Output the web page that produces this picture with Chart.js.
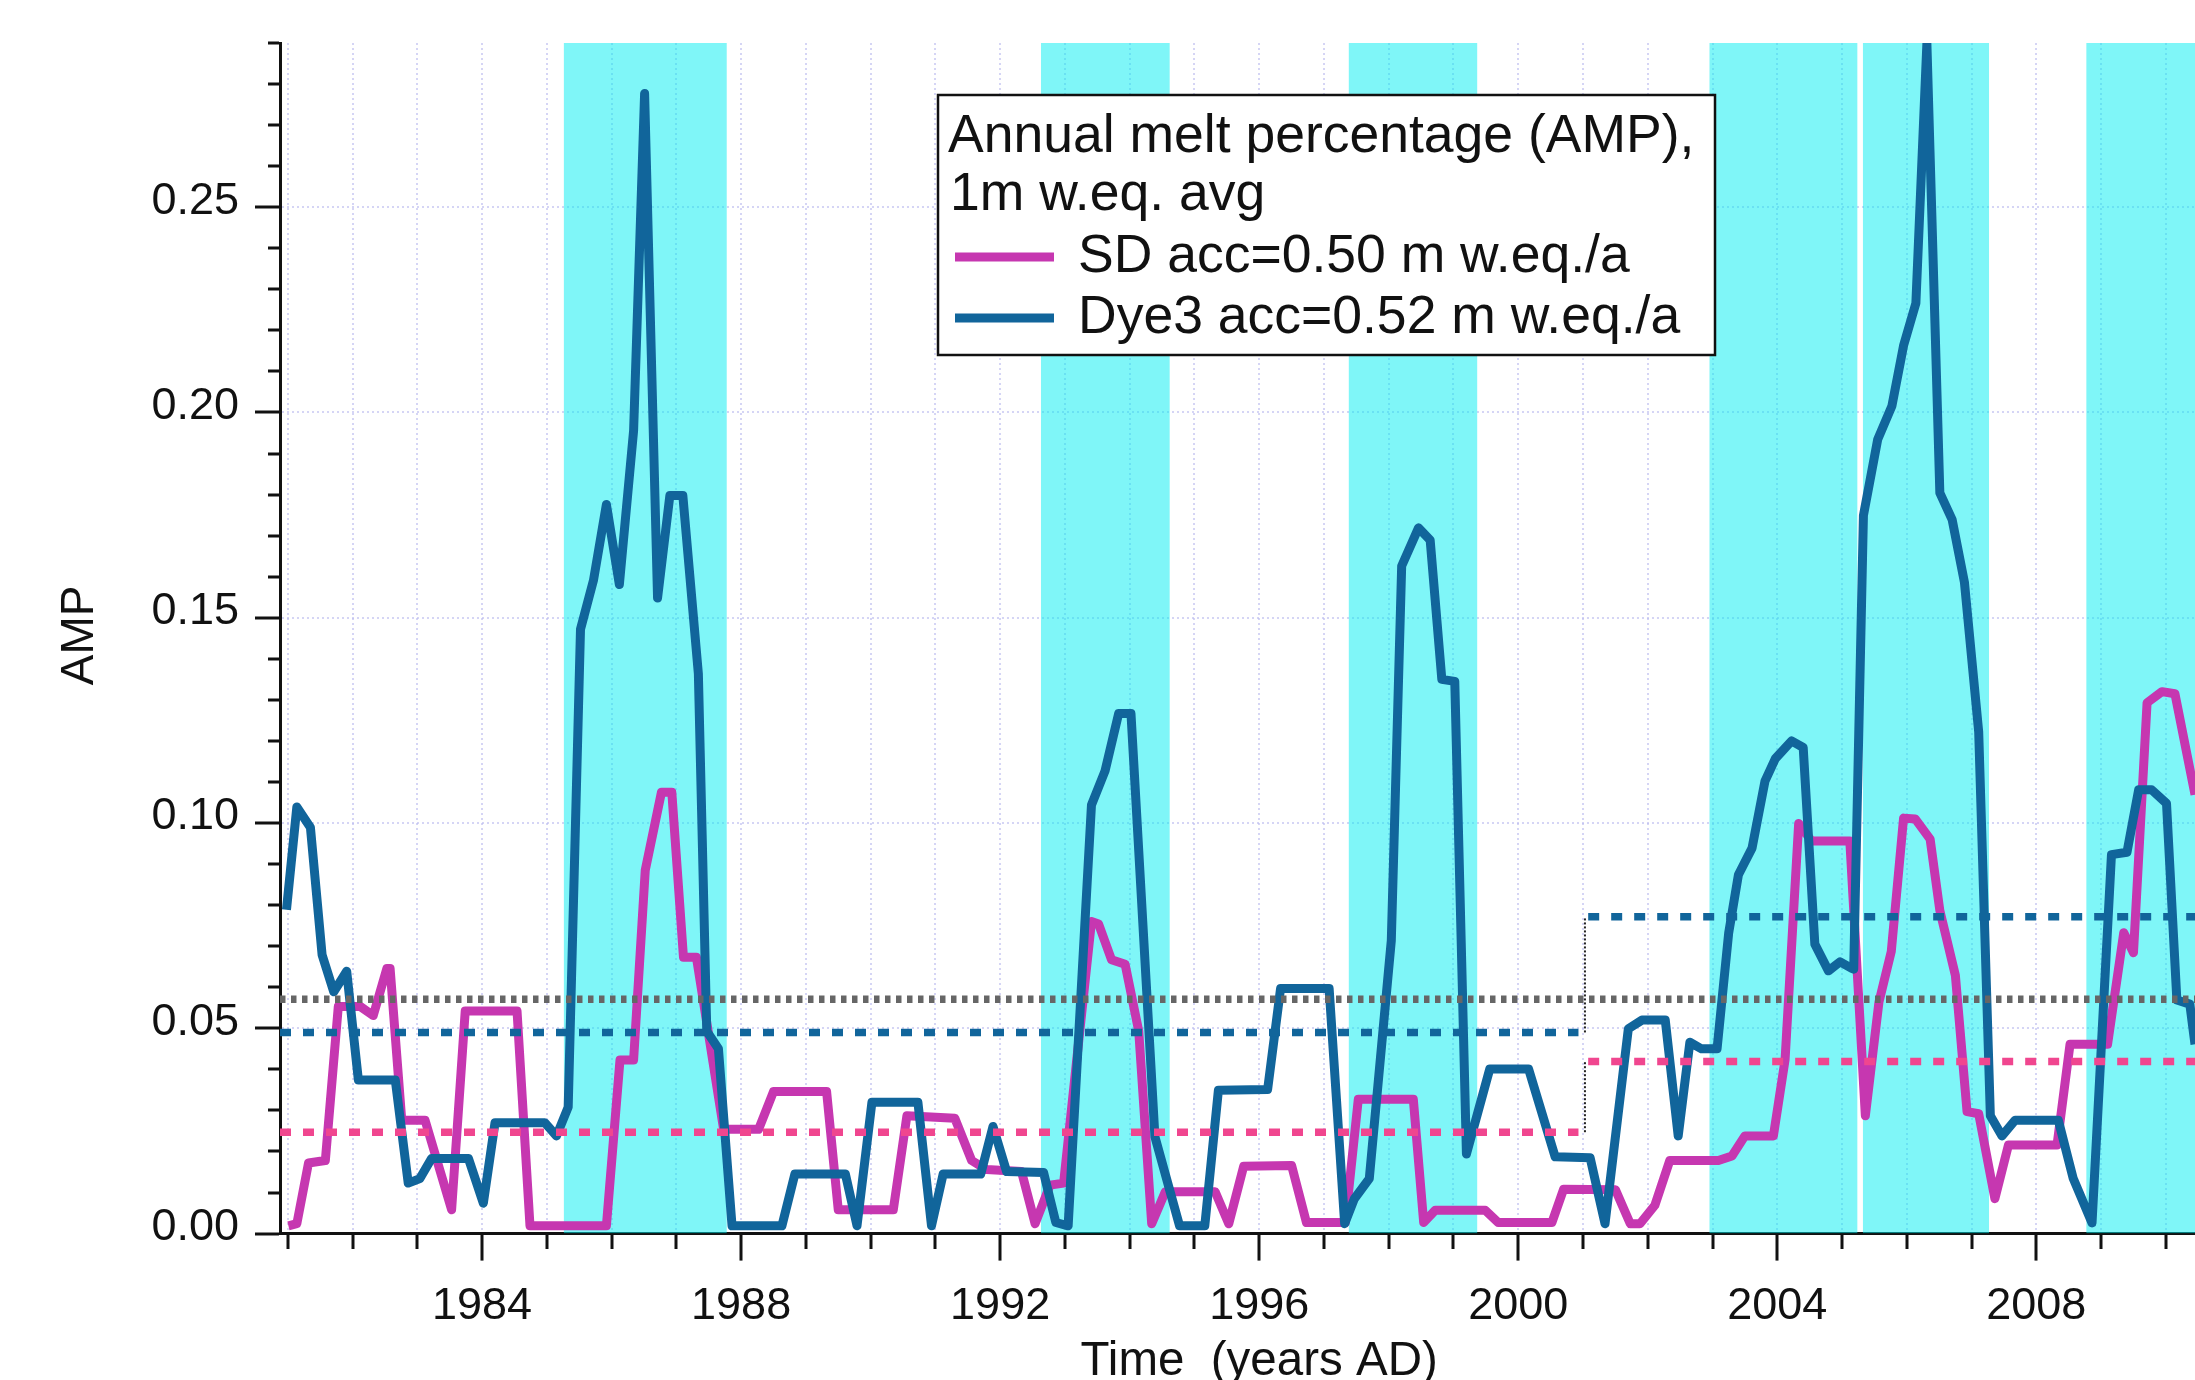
<!DOCTYPE html>
<html>
<head>
<meta charset="utf-8">
<script src="https://cdn.jsdelivr.net/npm/chart.js@4.4.1/dist/chart.umd.min.js"></script>
<style>
  html, body { margin: 0; padding: 0; background: #ffffff; overflow: hidden; }
  canvas { display: block; }
</style>
</head>
<body>
<canvas id="amp" width="2195" height="1380"></canvas>
<script>
// ---- Annual melt percentage, 1 m w.eq. running average ----
const dye3Years = [
  1980.98, 1981.14, 1981.35, 1981.53, 1981.71, 1981.91, 1982.09, 1982.66, 1982.86, 1983.04,
  1983.22, 1983.79, 1984.02, 1984.20, 1984.97, 1985.15, 1985.33, 1985.52, 1985.72, 1985.92,
  1986.12, 1986.34, 1986.51, 1986.71, 1986.90, 1987.10, 1987.34, 1987.47, 1987.65, 1987.86,
  1988.63, 1988.83, 1989.61, 1989.79, 1990.02, 1990.73, 1990.94, 1991.12, 1991.70, 1991.89,
  1992.10, 1992.67, 1992.86, 1993.05, 1993.41, 1993.62, 1993.83, 1994.02, 1994.39, 1994.77,
  1995.16, 1995.37, 1996.13, 1996.33, 1997.08, 1997.32, 1997.47, 1997.70, 1998.04, 1998.20,
  1998.46, 1998.64, 1998.82, 1999.02, 1999.20, 1999.56, 2000.16, 2000.57, 2001.11, 2001.34,
  2001.70, 2001.91, 2002.27, 2002.47, 2002.65, 2002.83, 2003.07, 2003.25, 2003.40, 2003.61,
  2003.81, 2003.97, 2004.22, 2004.40, 2004.58, 2004.79, 2004.97, 2005.15, 2005.18, 2005.33,
  2005.55, 2005.77, 2005.95, 2006.14, 2006.31, 2006.51, 2006.70, 2006.89, 2007.11, 2007.29,
  2007.47, 2007.67, 2008.34, 2008.57, 2008.86, 2009.16, 2009.40, 2009.58, 2009.78, 2010.01,
  2010.17, 2010.37, 2010.45
];
const dye3Amp = [
  0.0770, 0.1020, 0.0970, 0.0660, 0.0570, 0.0620, 0.0355, 0.0355, 0.0104, 0.0115,
  0.0164, 0.0164, 0.0055, 0.0251, 0.0251, 0.0219, 0.0289, 0.1453, 0.1572, 0.1757,
  0.1562, 0.1937, 0.2758, 0.1529, 0.1779, 0.1779, 0.1345, 0.0474, 0.0431, 0.0000,
  0.0000, 0.0126, 0.0126, 0.0000, 0.0301, 0.0301, 0.0000, 0.0126, 0.0126, 0.0242,
  0.0132, 0.0130, 0.0008, 0.0000, 0.1025, 0.1108, 0.1248, 0.1248, 0.0217, 0.0000,
  0.0000, 0.0330, 0.0332, 0.0578, 0.0578, 0.0005, 0.0066, 0.0115, 0.0695, 0.1607,
  0.1700, 0.1670, 0.1331, 0.1326, 0.0175, 0.0382, 0.0382, 0.0168, 0.0166, 0.0005,
  0.0480, 0.0501, 0.0501, 0.0219, 0.0447, 0.0431, 0.0431, 0.0714, 0.0855, 0.0920,
  0.1083, 0.1138, 0.1181, 0.1165, 0.0686, 0.0621, 0.0643, 0.0627, 0.0625, 0.1730,
  0.1915, 0.1997, 0.2144, 0.2247, 0.2880, 0.1785, 0.1720, 0.1567, 0.1203, 0.0268,
  0.0219, 0.0257, 0.0257, 0.0115, 0.0007, 0.0904, 0.0910, 0.1062, 0.1062, 0.1029,
  0.0550, 0.0540, 0.0442
];

const sdYears = [
  1981.01, 1981.14, 1981.32, 1981.58, 1981.78, 1982.12, 1982.32, 1982.53, 1982.58, 1982.76,
  1983.12, 1983.53, 1983.74, 1984.54, 1984.74, 1985.92, 1986.13, 1986.34, 1986.52, 1986.77,
  1986.93, 1987.11, 1987.31, 1987.73, 1988.27, 1988.50, 1989.32, 1989.50, 1990.35, 1990.56,
  1991.30, 1991.56, 1991.79, 1992.33, 1992.54, 1992.77, 1992.98, 1993.41, 1993.52, 1993.72,
  1993.93, 1994.14, 1994.34, 1994.55, 1995.32, 1995.53, 1995.76, 1996.50, 1996.73, 1997.33,
  1997.53, 1998.38, 1998.54, 1998.72, 1999.49, 1999.69, 2000.52, 2000.70, 2001.50, 2001.73,
  2001.88, 2002.11, 2002.34, 2003.09, 2003.30, 2003.50, 2003.94, 2004.12, 2004.33, 2004.53,
  2005.12, 2005.36, 2005.57, 2005.76, 2005.95, 2006.13, 2006.36, 2006.51, 2006.75, 2006.93,
  2007.11, 2007.36, 2007.57, 2008.32, 2008.52, 2009.10, 2009.35, 2009.50, 2009.71, 2009.94,
  2010.14, 2010.45
];
const sdAmp = [
  0.0000, 0.0005, 0.0153, 0.0159, 0.0534, 0.0534, 0.0512, 0.0627, 0.0627, 0.0257,
  0.0257, 0.0039, 0.0523, 0.0523, 0.0000, 0.0000, 0.0404, 0.0404, 0.0866, 0.1056,
  0.1056, 0.0654, 0.0654, 0.0235, 0.0235, 0.0327, 0.0327, 0.0039, 0.0039, 0.0268,
  0.0262, 0.0159, 0.0137, 0.0132, 0.0005, 0.0099, 0.0104, 0.0741, 0.0735, 0.0648,
  0.0637, 0.0474, 0.0005, 0.0083, 0.0083, 0.0005, 0.0145, 0.0147, 0.0008, 0.0008,
  0.0308, 0.0308, 0.0008, 0.0038, 0.0038, 0.0008, 0.0008, 0.0089, 0.0088, 0.0005,
  0.0005, 0.0050, 0.0159, 0.0159, 0.0170, 0.0219, 0.0219, 0.0404, 0.0980, 0.0937,
  0.0937, 0.0268, 0.0545, 0.0668, 0.0993, 0.0991, 0.0942, 0.0768, 0.0610, 0.0278,
  0.0273, 0.0066, 0.0197, 0.0197, 0.0442, 0.0442, 0.0714, 0.0665, 0.1274, 0.1301,
  0.1296, 0.1050
];

// Period means (before / after 2001) and the overall mean
const periodBreak = 2001.03;
const sdMeans = [0.0228, 0.0400];
const dye3Means = [0.0471, 0.0753];
const overallMean = 0.0552;

// Shaded melt seasons (start, end in years AD)
const bandStart = [1985.26, 1992.63, 1997.38, 2002.95, 2005.32, 2008.77];
const bandEnd   = [1987.78, 1994.62, 1999.37, 2005.24, 2007.27, 2010.45];

// Axis ranges
const X_MIN = 1980.88, X_MAX = 2010.45;
const Y_MIN = -0.0019, Y_MAX = 0.2881;

// Labels
const legendTitle = ['Annual melt percentage (AMP),', '1m w.eq. avg'];
const sdLabel = 'SD acc=0.50 m w.eq./a';
const dye3Label = 'Dye3 acc=0.52 m w.eq./a';
const xTitle = 'Time  (years AD)';
const yTitle = 'AMP';

// Colours
const SD_COLOR = '#C637B0';
const DYE3_COLOR = '#11659B';
const SD_MEAN_COLOR = '#F0468F';
const GRAY_MEAN = '#666666';
const BAND_COLOR = 'rgba(0, 238, 242, 0.5)';
const GRID_COLOR = 'rgba(185, 185, 238, 0.6)';
const TEXT_COLOR = '#111';
const FONT = "'Liberation Sans', Arial, Helvetica, sans-serif";

const toXY = (xs, ys) => xs.map((x, i) => ({ x: x, y: ys[i] }));
const flat = (x0, x1, y) => [{ x: x0, y: y }, { x: x1, y: y }];

const bandSets = bandStart.map((s, i) => ({
  label: 'band' + i,
  data: flat(s, bandEnd[i], Y_MAX),
  borderWidth: 0,
  pointRadius: 0,
  backgroundColor: BAND_COLOR,
  fill: 'start',
  order: 100
}));

const meanLine = (x0, x1, y, color, dash, width) => ({
  data: flat(x0, x1, y),
  borderColor: color,
  borderWidth: width,
  borderDash: dash,
  borderCapStyle: 'butt',
  pointRadius: 0,
  fill: false,
  order: 10
});

const connector = (y0, y1) => ({
  data: [{ x: periodBreak, y: y0 }, { x: periodBreak, y: y1 }],
  borderColor: '#222',
  borderWidth: 2,
  borderDash: [2, 2],
  pointRadius: 0,
  fill: false,
  order: 5
});

const datasets = [
  ...bandSets,
  {
    label: sdLabel,
    data: toXY(sdYears, sdAmp),
    borderColor: SD_COLOR,
    borderWidth: 9,
    borderJoinStyle: 'round',
    pointRadius: 0,
    tension: 0,
    fill: false,
    order: 50
  },
  {
    label: dye3Label,
    data: toXY(dye3Years, dye3Amp),
    borderColor: DYE3_COLOR,
    borderWidth: 9,
    borderJoinStyle: 'round',
    pointRadius: 0,
    tension: 0,
    fill: false,
    order: 40
  },
  meanLine(X_MIN, X_MAX, overallMean, GRAY_MEAN, [5.5, 5.5], 7.5),
  meanLine(X_MIN, periodBreak - 0.1, dye3Means[0], DYE3_COLOR, [11, 12], 7.5),
  meanLine(periodBreak + 0.05, X_MAX, dye3Means[1], DYE3_COLOR, [11, 12], 7.5),
  meanLine(X_MIN, periodBreak - 0.1, sdMeans[0], SD_MEAN_COLOR, [11, 12], 7.5),
  meanLine(periodBreak + 0.05, X_MAX, sdMeans[1], SD_MEAN_COLOR, [11, 12], 7.5),
  connector(dye3Means[0], dye3Means[1]),
  connector(sdMeans[0], sdMeans[1])
];

const isMajorYear = v => Math.round(v) % 4 === 0;
const isMajorAmp = v => Math.round(v * 100) % 5 === 0;

// Boxed legend and both axis titles
const annotations = {
  id: 'ampAnnotations',
  afterDraw(chart) {
    const ctx = chart.ctx;
    const xs = chart.scales.x;
    const area = chart.chartArea;
    ctx.save();
    // legend box
    const bx = 938, by = 95, bw = 777, bh = 260;
    ctx.fillStyle = '#ffffff';
    ctx.fillRect(bx, by, bw, bh);
    ctx.lineWidth = 2.5;
    ctx.strokeStyle = TEXT_COLOR;
    ctx.strokeRect(bx, by, bw, bh);
    ctx.fillStyle = TEXT_COLOR;
    ctx.font = '53.5px ' + FONT;
    ctx.textBaseline = 'alphabetic';
    ctx.textAlign = 'left';
    ctx.fillText(legendTitle[0], bx + 10, by + 57);
    ctx.fillText(legendTitle[1], bx + 12, by + 115);
    const entries = [[sdLabel, SD_COLOR, by + 177], [dye3Label, DYE3_COLOR, by + 238]];
    entries.forEach(([txt, col, base]) => {
      ctx.strokeStyle = col;
      ctx.lineWidth = 9;
      ctx.beginPath();
      ctx.moveTo(bx + 17, base - 15);
      ctx.lineTo(bx + 116, base - 15);
      ctx.stroke();
      ctx.fillStyle = TEXT_COLOR;
      ctx.fillText(txt, bx + 140, base);
    });
    // x-axis title
    ctx.font = '47.5px ' + FONT;
    ctx.textAlign = 'center';
    ctx.fillText(xTitle, xs.getPixelForValue(1996), chart.height - 5);
    // y-axis title, rotated
    ctx.translate(93, (area.top + area.bottom) / 2 - 3);
    ctx.rotate(-Math.PI / 2);
    ctx.font = '46px ' + FONT;
    ctx.fillText(yTitle, 0, 0);
    ctx.restore();
  }
};

new Chart(document.getElementById('amp'), {
  type: 'line',
  data: { datasets: datasets },
  plugins: [annotations],
  options: {
    responsive: false,
    animation: false,
    devicePixelRatio: 1,
    layout: { padding: { top: 43, right: 0, bottom: 0, left: 0 } },
    plugins: { legend: { display: false }, tooltip: { enabled: false } },
    elements: { line: { borderCapStyle: 'butt' } },
    scales: {
      x: {
        type: 'linear',
        min: X_MIN,
        max: X_MAX,
        afterFit: s => { s.height = 146.4; },
        ticks: {
          stepSize: 1,
          includeBounds: false,
          autoSkip: false,
          maxRotation: 0,
          padding: 19,
          color: TEXT_COLOR,
          font: { family: FONT, size: 45 },
          callback: v => (isMajorYear(v) ? String(Math.round(v)) : '')
        },
        grid: {
          color: GRID_COLOR,
          lineWidth: 2,
          tickLength: 27,
          tickWidth: 3,
          tickColor: TEXT_COLOR,
          tickBorderDash: c => (c.tick && isMajorYear(c.tick.value) ? [] : [14, 80])
        },
        border: { display: true, color: TEXT_COLOR, width: 3, dash: [2, 3] }
      },
      y: {
        type: 'linear',
        min: Y_MIN,
        max: Y_MAX,
        afterFit: s => { s.width = 280; },
        ticks: {
          stepSize: 0.01,
          includeBounds: false,
          autoSkip: false,
          padding: 16,
          labelOffset: -6,
          color: TEXT_COLOR,
          font: { family: FONT, size: 45 },
          callback: v => (isMajorAmp(v) ? (Math.round(v * 100) / 100 + 0).toFixed(2) : '')
        },
        grid: {
          color: c => (c.tick && isMajorAmp(c.tick.value) ? GRID_COLOR : 'rgba(0,0,0,0)'),
          lineWidth: 2,
          tickLength: 25,
          tickWidth: 3,
          tickColor: TEXT_COLOR,
          tickBorderDash: c => (c.tick && isMajorAmp(c.tick.value) ? [] : [0, 13, 80])
        },
        border: { display: true, color: TEXT_COLOR, width: 3, dash: [2, 3] }
      }
    }
  }
});
</script>
</body>
</html>
